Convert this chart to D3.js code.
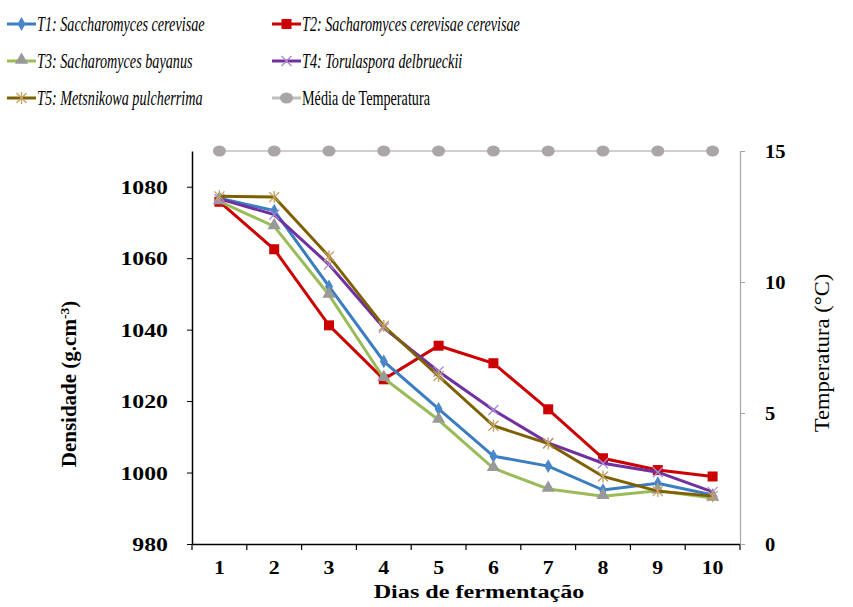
<!DOCTYPE html>
<html lang="pt">
<head>
    <meta charset="UTF-8">
    <title>Densidade</title>
    <script src="https://cdn.jsdelivr.net/npm/d3@7"></script>
    <style>
        body { margin: 0; background: #fff; }
        svg text { font-family: 'Liberation Serif', 'DejaVu Serif', serif; }
    </style>
</head>
<body>
<svg width="853" height="607"></svg>
<script>
    // dados
    var dias = ['1','2','3','4','5','6','7','8','9','10'];
    var t1 = [1076.8, 1073.3, 1052.1, 1031.1, 1017.8, 1004.6, 1001.8, 995.1, 997.0, 993.7];
    var t2 = [1075.8, 1062.5, 1041.2, 1026.1, 1035.5, 1030.6, 1017.7, 1004.0, 1000.7, 998.9];
    var t3 = [1075.9, 1068.9, 1049.7, 1026.4, 1014.7, 1001.2, 995.4, 993.4, 994.9, 992.9];
    var t4 = [1076.6, 1072.2, 1058.2, 1040.5, 1028.3, 1017.5, 1008.3, 1002.6, 1000.1, 994.6];
    var t5 = [1077.3, 1077.1, 1060.5, 1041.0, 1027.0, 1013.1, 1008.1, 998.9, 994.8, 993.4];
    var temperatura = [15, 15, 15, 15, 15, 15, 15, 15, 15, 15];
    var yTicks = [980, 1000, 1020, 1040, 1060, 1080];
    var y2Ticks = [0, 5, 10, 15];

    var series = [
        {name: 'T1: Saccharomyces cerevisae', values: t1, color: '#3b7dc0', mk: 'diamond', mkColor: '#4a86c8', italic: true},
        {name: 'T2: Sacharomyces cerevisae cerevisae', values: t2, color: '#cc0000', mk: 'square', mkColor: '#cc0000', italic: true},
        {name: 'T3: Sacharomyces bayanus', values: t3, color: '#9bbb59', mk: 'triangle', mkColor: '#999999', italic: true},
        {name: 'T4: Torulaspora delbrueckii', values: t4, color: '#7030a0', mk: 'x', mkColor: '#a98ad0', italic: true},
        {name: 'T5: Metsnikowa pulcherrima', values: t5, color: '#7f6000', mk: 'star', mkColor: '#c0a060', italic: true},
        {name: 'Média de Temperatura', values: temperatura, color: '#bfbfbf', mk: 'circle', mkColor: '#aaa6a6', italic: false, right: true}
    ];

    var svg = d3.select('svg');
    var pLeft = 192, pRight = 740, pTop = 151, pBottom = 544;

    var x = d3.scaleBand().domain(dias).range([pLeft, pRight]);
    var y = d3.scaleLinear().domain([980, 1090]).range([pBottom, pTop]);
    var y2 = d3.scaleLinear().domain([0, 15]).range([pBottom, pTop]);

    function cx(d, i) { return x(dias[i]) + x.bandwidth() / 2; }

    // texto com largura ajustada (sx)
    function label(px, py, str, size, opts) {
        opts = opts || {};
        var sx = opts.sx || 1;
        var t = svg.append('text')
            .attr('transform', 'translate(' + px + ',' + py + ')' + (opts.rot ? ' rotate(-90)' : '') + ' scale(' + sx + ',1)')
            .attr('text-anchor', opts.anchor || 'start')
            .attr('font-size', size)
            .attr('font-weight', opts.bold ? 'bold' : 'normal')
            .attr('font-style', opts.italic ? 'italic' : 'normal')
            .attr('fill', '#000');
        if (str !== null) t.text(str);
        return t;
    }

    // eixos
    var gx = svg.append('g').attr('transform', 'translate(0,' + pBottom + ')')
        .call(d3.axisBottom(x).tickSize(0).tickFormat(''));
    gx.select('.domain').attr('stroke', '#000').attr('stroke-width', 1.5);
    dias.forEach(function(d) {
        label(x(d) + x.bandwidth() / 2, pBottom + 30, d, 19, {bold: true, anchor: 'middle', sx: 1.15});
    });
    // ticks entre categorias
    svg.append('g').selectAll('line')
        .data(d3.range(dias.length + 1))
        .enter().append('line')
        .attr('x1', function(d) { return pLeft + d * x.bandwidth(); })
        .attr('x2', function(d) { return pLeft + d * x.bandwidth(); })
        .attr('y1', pBottom).attr('y2', pBottom + 6)
        .attr('stroke', '#000').attr('stroke-width', 1.2);

    var gy = svg.append('g').attr('transform', 'translate(' + pLeft + ',0)')
        .call(d3.axisLeft(y).tickValues(yTicks).tickSize(5).tickFormat('').tickSizeOuter(0));
    gy.select('.domain').attr('stroke', '#000').attr('stroke-width', 1.5);
    gy.selectAll('.tick line').attr('stroke', '#000');
    yTicks.forEach(function(v) {
        label(168, y(v) + 7, String(v), 19.5, {bold: true, anchor: 'end', sx: 1.22});
    });

    var gy2 = svg.append('g').attr('transform', 'translate(' + pRight + ',0)')
        .call(d3.axisRight(y2).tickValues(y2Ticks).tickSize(5).tickFormat('').tickSizeOuter(0));
    gy2.select('.domain').attr('stroke', '#a6a6a6').attr('stroke-width', 1.2);
    gy2.selectAll('.tick line').attr('stroke', '#a6a6a6');
    y2Ticks.forEach(function(v) {
        label(765, y2(v) + 6.5, String(v), 19, {bold: true, sx: 1.08});
    });

    // titulos
    label(479, 598, 'Dias de fermentação', 19.5, {bold: true, anchor: 'middle', sx: 1.24});

    var ty = label(76, 384, null, 20, {bold: true, anchor: 'middle', rot: true, sx: 1.05});
    ty.append('tspan').text('Densidade (g.cm');
    ty.append('tspan').attr('dy', -7).attr('font-size', 13).text('-3');
    ty.append('tspan').attr('dy', 7).text(')');

    label(829, 353, 'Temperatura (°C)', 20, {anchor: 'middle', rot: true, sx: 1.13});

    // marcadores
    function marker(g, type, color, px, py) {
        if (type === 'diamond') {
            g.append('path').attr('d', d3.symbol().type(d3.symbolDiamond).size(55)())
                .attr('transform', 'translate(' + px + ',' + py + ')').attr('fill', color);
        } else if (type === 'square') {
            g.append('rect').attr('x', px - 5).attr('y', py - 5).attr('width', 10).attr('height', 10).attr('fill', color);
        } else if (type === 'triangle') {
            g.append('path').attr('d', d3.symbol().type(d3.symbolTriangle).size(75)())
                .attr('transform', 'translate(' + px + ',' + (py - 1) + ')').attr('fill', color);
        } else if (type === 'x') {
            g.append('path').attr('d', 'M-5,-5L5,5M-5,5L5,-5')
                .attr('transform', 'translate(' + px + ',' + py + ')').attr('stroke', color).attr('stroke-width', 1.3);
        } else if (type === 'star') {
            g.append('path').attr('d', 'M-5,-5L5,5M-5,5L5,-5M0,-6L0,6')
                .attr('transform', 'translate(' + px + ',' + py + ')').attr('stroke', color).attr('stroke-width', 1.3);
        } else if (type === 'circle') {
            g.append('ellipse').attr('cx', px).attr('cy', py).attr('rx', 6.5).attr('ry', 5.5).attr('fill', color);
        }
    }

    // linhas
    var order = [5, 1, 0, 2, 3, 4];
    order.forEach(function(k) {
        var s = series[k];
        var sc = s.right ? y2 : y;
        var line = d3.line().x(cx).y(function(d) { return sc(d); });
        svg.append('path').datum(s.values)
            .attr('d', line)
            .attr('fill', 'none')
            .attr('stroke', s.color)
            .attr('stroke-width', s.right ? 1.5 : 3);
        var g = svg.append('g');
        s.values.forEach(function(v, i) {
            marker(g, s.mk, s.mkColor, cx(v, i), sc(v));
        });
    });

    // legenda
    var legPos = [[7, 24], [272, 24], [7, 61], [272, 61], [7, 98], [272, 98]];
    series.forEach(function(s, i) {
        var p = legPos[i];
        var g = svg.append('g');
        g.append('line').attr('x1', p[0]).attr('x2', p[0] + 29).attr('y1', p[1]).attr('y2', p[1])
            .attr('stroke', s.color).attr('stroke-width', 3);
        marker(g, s.mk, s.mkColor, p[0] + 14.5, p[1]);
        label(p[0] + 30, p[1] + 7, s.name, 20, {italic: s.italic, sx: 0.71});
    });
</script>
</body>
</html>
